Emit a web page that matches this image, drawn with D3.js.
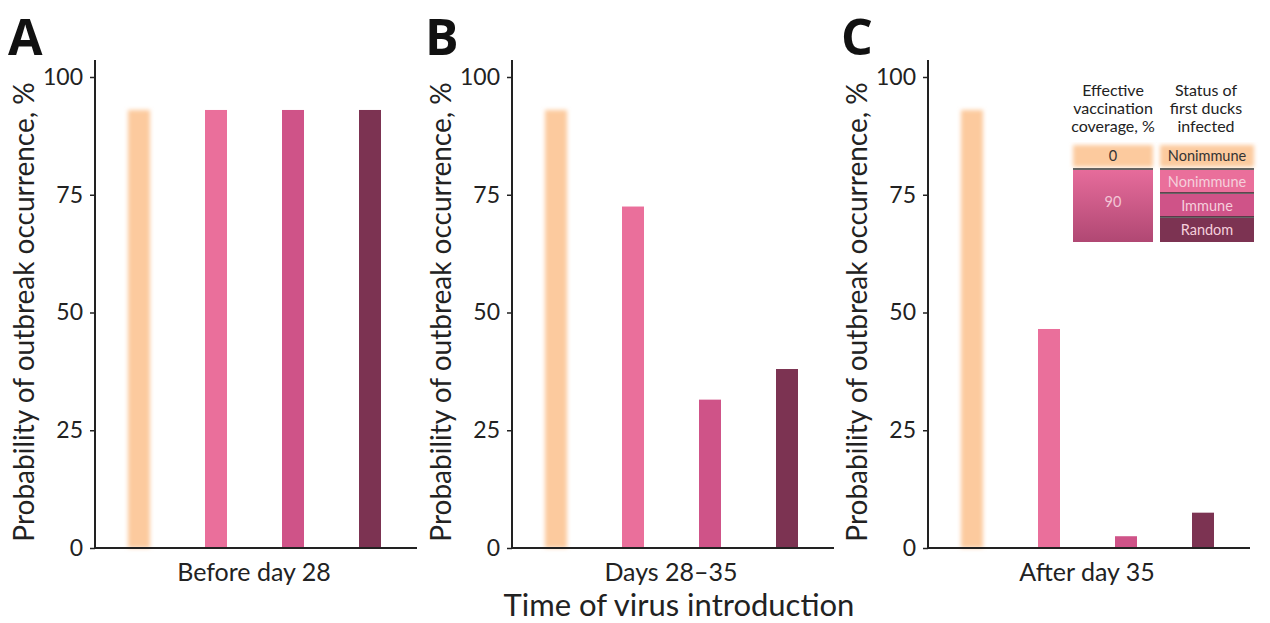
<!DOCTYPE html>
<html><head><meta charset="utf-8">
<script src="https://cdn.jsdelivr.net/npm/d3@7"></script>
<style>body{margin:0;background:#fff}svg{display:block;font-family:Lato,"Open Sans",sans-serif}</style>
</head><body>
<svg id="c" width="1270" height="623"></svg>
<script>
const panels = ["A","B","C"];
const periods = ["Before day 28","Days 28–35","After day 35"];
const groups = ["0% Nonimmune","90% Nonimmune","90% Immune","90% Random"];
const valuesA = [93, 93, 93, 93];
const valuesB = [93, 72.5, 31.5, 38];
const valuesC = [93, 46.5, 2.5, 7.5];
const yTicks = [0, 25, 50, 75, 100];
const colors = ["#fcca9e", "#ea6f9b", "#cf5388", "#7c3352"];
const legendCoverage = ["0", "90"];
const legendStatus = ["Nonimmune", "Nonimmune", "Immune", "Random"];
const allValues = [valuesA, valuesB, valuesC];

const svg = d3.select("#c");
const defs = svg.append("defs");
defs.append("filter").attr("id","blur").attr("x","-50%").attr("width","200%")
  .append("feGaussianBlur").attr("stdDeviation", 2.2);
const g90 = defs.append("linearGradient").attr("id","g90").attr("x1",0).attr("y1",0).attr("x2",0).attr("y2",1);
g90.append("stop").attr("offset",0).attr("stop-color","#e66c9b");
g90.append("stop").attr("offset",1).attr("stop-color","#b04873");

const y = d3.scaleLinear().domain([0,100]).range([548, 77]);
const panelX = [95, 512, 928];
const plotW = 322;

panels.forEach((p, i) => {
  const x0 = panelX[i];
  const g = svg.append("g").attr("transform", `translate(${x0},0)`);
  const x = d3.scalePoint().domain(groups).range([44, 275]);
  const bw = 22;
  g.selectAll("rect.bar").data(allValues[i]).join("rect")
    .attr("class","bar")
    .attr("x", (d, j) => x(groups[j]) - bw/2)
    .attr("width", bw)
    .attr("y", d => y(d))
    .attr("height", d => y(0) - y(d))
    .attr("fill", (d, j) => colors[j])
    .attr("filter", (d, j) => j === 0 ? "url(#blur)" : null);
  const ya = g.append("g").call(d3.axisLeft(y).tickValues(yTicks).tickSize(5).tickPadding(7));
  ya.select(".domain").remove();
  ya.selectAll("line").attr("stroke","#222").attr("stroke-width",1.5);
  ya.selectAll("text").attr("font-size",23).attr("fill","#222").attr("font-family","Lato, sans-serif");
  g.append("line").attr("x1",0).attr("x2",0).attr("y1",60).attr("y2",549).attr("stroke","#222").attr("stroke-width",2);
  g.append("line").attr("x1",0).attr("x2",plotW).attr("y1",548).attr("y2",548).attr("stroke","#222").attr("stroke-width",2);
  g.append("text").attr("x", plotW/2 - 2).attr("y", 581).attr("text-anchor","middle")
    .attr("font-size",25).attr("fill","#222").text(periods[i]);
  g.append("text").attr("transform", `translate(${-61},312) rotate(-90)`).attr("text-anchor","middle")
    .attr("font-size",28).attr("fill","#222").text("Probability of outbreak occurrence, %");
  g.append("text").attr("x", -87).attr("y", 55).attr("font-size",50).attr("font-weight","bold")
    .attr("fill","#111").attr("font-family","'Open Sans', sans-serif").text(p);
});

svg.append("text").attr("x", 679).attr("y", 616).attr("text-anchor","middle")
  .attr("font-size",31).attr("fill","#222").text("Time of virus introduction");

// legend
const lg = svg.append("g");
const t1 = ["Effective","vaccination","coverage, %"];
const t2 = ["Status of","first ducks","infected"];
t1.forEach((t, k) => lg.append("text").attr("x",1113).attr("y",96 + k*18).attr("text-anchor","middle").attr("font-size",16).attr("fill","#222").text(t));
t2.forEach((t, k) => lg.append("text").attr("x",1206).attr("y",96 + k*18).attr("text-anchor","middle").attr("font-size",16).attr("fill","#222").text(t));
lg.append("rect").attr("x",1073).attr("y",145).attr("width",80).attr("height",22).attr("fill",colors[0]).attr("filter","url(#blur)");
lg.append("rect").attr("x",1073).attr("y",170).attr("width",80).attr("height",72).attr("fill","url(#g90)");
lg.append("line").attr("x1",1073).attr("x2",1153).attr("y1",169).attr("y2",169).attr("stroke","#333").attr("stroke-width",1.5);
lg.append("text").attr("x",1113).attr("y",161).attr("text-anchor","middle").attr("font-size",14.5).attr("fill","#333").text(legendCoverage[0]);
lg.append("text").attr("x",1113).attr("y",207).attr("text-anchor","middle").attr("font-size",14.5).attr("fill","#f3c6d6").text(legendCoverage[1]);
const sy = [145, 170, 194, 218];
const sh = [22, 23, 23, 24];
legendStatus.forEach((s, k) => {
  lg.append("rect").attr("x",1160).attr("y",sy[k]).attr("width",94).attr("height",sh[k])
    .attr("fill",colors[k]).attr("filter", k===0 ? "url(#blur)" : null);
  lg.append("text").attr("x",1207).attr("y",sy[k]+sh[k]/2+5).attr("text-anchor","middle")
    .attr("font-size",14.5).attr("fill", k===0 ? "#333" : "#f5cfdc").text(s);
  if (k > 0) lg.append("line").attr("x1",1160).attr("x2",1254).attr("y1",sy[k]-1).attr("y2",sy[k]-1).attr("stroke","#333").attr("stroke-width",1.5);
});
</script>
</body></html>
